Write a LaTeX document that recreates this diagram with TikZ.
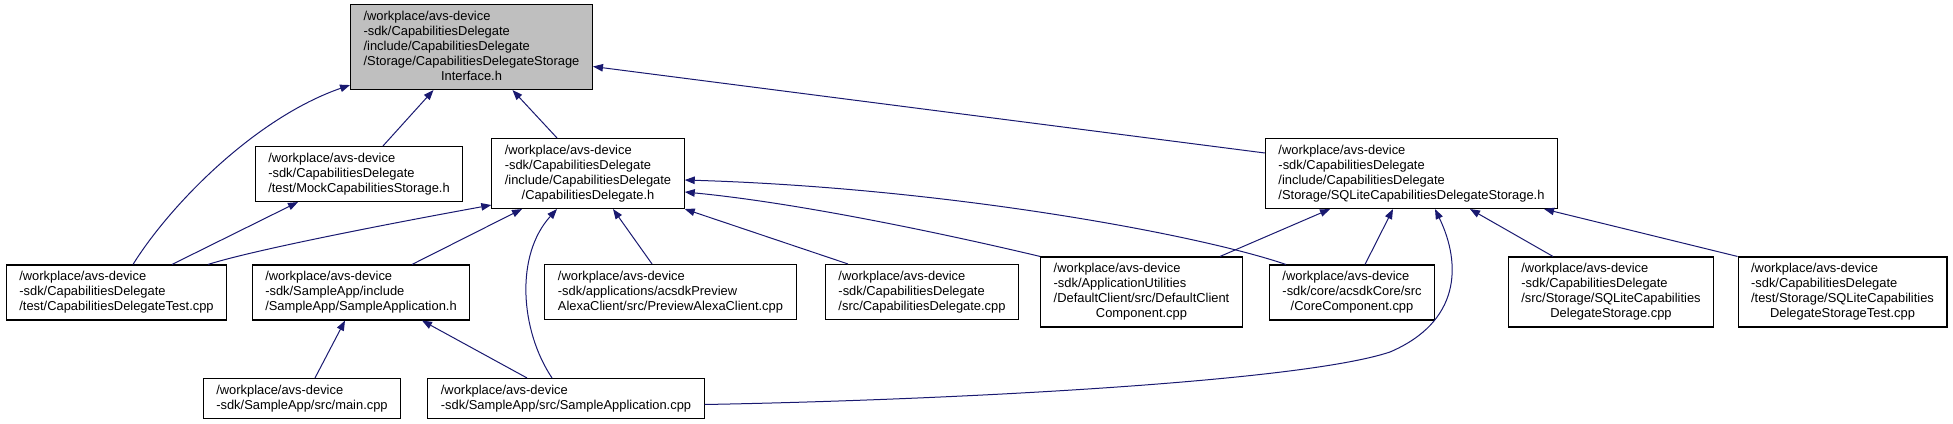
\documentclass[tikz,border=0pt]{standalone}
\usepackage{fontspec}
\setmainfont{Liberation Sans}
\usetikzlibrary{arrows.meta}
\definecolor{edgeblue}{RGB}{25,25,112}
\definecolor{rootgray}{RGB}{191,191,191}
\newcommand{\lbl}[2]{\begin{tabular}{@{}l@{}}#1\\\multicolumn{1}{@{}c@{}}{#2}\end{tabular}}
\tikzset{
  box/.style={draw=black, line width=1.1pt, fill=white, inner xsep=13pt, inner ysep=5pt,
    font=\fontsize{12.9}{15}\selectfont},
  edge/.style={draw=edgeblue, line width=1pt, -{Triangle[length=10pt,width=7.5pt]}}
}
\begin{document}
\begin{tikzpicture}[x=1pt,y=-1pt]
\useasboundingbox (0,0) rectangle (1953,423);
% nodes
\node[box, fill=rootgray] (root) at (471.5,47) {\lbl{/workplace/avs-device\\-sdk/CapabilitiesDelegate\\/include/CapabilitiesDelegate\\/Storage/CapabilitiesDelegateStorage}{Interface.h}};
\node[box] (mock) at (359,174) {\lbl{/workplace/avs-device\\-sdk/CapabilitiesDelegate}{/test/MockCapabilitiesStorage.h}};
\node[box] (cdh) at (588,173.5) {\lbl{/workplace/avs-device\\-sdk/CapabilitiesDelegate\\/include/CapabilitiesDelegate}{/CapabilitiesDelegate.h}};
\node[box] (sql) at (1411.5,173.5) {\lbl{/workplace/avs-device\\-sdk/CapabilitiesDelegate\\/include/CapabilitiesDelegate}{/Storage/SQLiteCapabilitiesDelegateStorage.h}};
\node[box] (cdtest) at (116.5,292.5) {\lbl{/workplace/avs-device\\-sdk/CapabilitiesDelegate}{/test/CapabilitiesDelegateTest.cpp}};
\node[box] (sah) at (361,292.5) {\lbl{/workplace/avs-device\\-sdk/SampleApp/include}{/SampleApp/SampleApplication.h}};
\node[box] (prev) at (670.5,292) {\lbl{/workplace/avs-device\\-sdk/applications/acsdkPreview}{AlexaClient/src/PreviewAlexaClient.cpp}};
\node[box] (cdcpp) at (922,292) {\lbl{/workplace/avs-device\\-sdk/CapabilitiesDelegate}{/src/CapabilitiesDelegate.cpp}};
\node[box] (dc) at (1141.5,292) {\lbl{/workplace/avs-device\\-sdk/ApplicationUtilities\\/DefaultClient/src/DefaultClient}{Component.cpp}};
\node[box] (core) at (1352,292.5) {\lbl{/workplace/avs-device\\-sdk/core/acsdkCore/src}{/CoreComponent.cpp}};
\node[box] (sqlcpp) at (1611,292) {\lbl{/workplace/avs-device\\-sdk/CapabilitiesDelegate\\/src/Storage/SQLiteCapabilities}{DelegateStorage.cpp}};
\node[box] (sqltest) at (1842.5,292) {\lbl{/workplace/avs-device\\-sdk/CapabilitiesDelegate\\/test/Storage/SQLiteCapabilities}{DelegateStorageTest.cpp}};
\node[box] (maincpp) at (302,398.5) {\lbl{/workplace/avs-device}{-sdk/SampleApp/src/main.cpp}};
\node[box] (sacpp) at (566,398.5) {\lbl{/workplace/avs-device}{-sdk/SampleApp/src/SampleApplication.cpp}};
% edges (child -> parent, arrow at parent)
\draw[edge] ([xshift=16.5pt]cdtest.north) .. controls (170,205) and (255,118) .. ([yshift=5pt]root.south west);
\draw[edge] ([xshift=24pt]mock.north) -- ([xshift=-38pt]root.south);
\draw[edge] ([xshift=-31pt]cdh.north) -- ([xshift=41pt]root.south);
\draw[edge] ([yshift=20.5pt]sql.west) -- ([yshift=-19.5pt]root.east);
\draw[edge] ([xshift=55.5pt]cdtest.north) -- ([xshift=-61pt]mock.south);
\draw[edge] ([xshift=91.5pt]cdtest.north) .. controls (260,248) and (420,218) .. ([yshift=4pt]cdh.south west);
\draw[edge] ([xshift=51pt]sah.north) -- ([xshift=-66pt]cdh.south);
\draw[edge] ([xshift=-14pt]sacpp.north) .. controls (520,330) and (515,255) .. ([xshift=-31pt]cdh.south);
\draw[edge] ([xshift=-18.5pt]prev.north) -- ([xshift=25pt]cdh.south);
\draw[edge] ([xshift=23pt]cdcpp.north west) -- (cdh.south east);
\draw[edge] (dc.north west) .. controls (950,235) and (800,203) .. ([yshift=-18.5pt]cdh.east);
\draw[edge] ([xshift=17pt]core.north west) .. controls (1200,235) and (950,188) .. ([yshift=-6.5pt]cdh.east);
\draw[edge] ([xshift=13pt]maincpp.north) -- ([xshift=-16pt]sah.south);
\draw[edge] ([xshift=-39pt]sacpp.north) -- ([xshift=61pt]sah.south);
\draw[edge] ([yshift=-6pt]sacpp.east) .. controls (950,400) and (1300,382) .. (1390,352) .. controls (1460,322) and (1462,265) .. ([xshift=23.5pt]sql.south);
\draw[edge] ([xshift=78.5pt]dc.north) -- ([xshift=-81.5pt]sql.south);
\draw[edge] ([xshift=13pt]core.north) -- ([xshift=-18.5pt]sql.south);
\draw[edge] ([xshift=-58pt]sqlcpp.north) -- ([xshift=58.5pt]sql.south);
\draw[edge] (sqltest.north west) -- ([xshift=-14pt]sql.south east);
\end{tikzpicture}
\end{document}
